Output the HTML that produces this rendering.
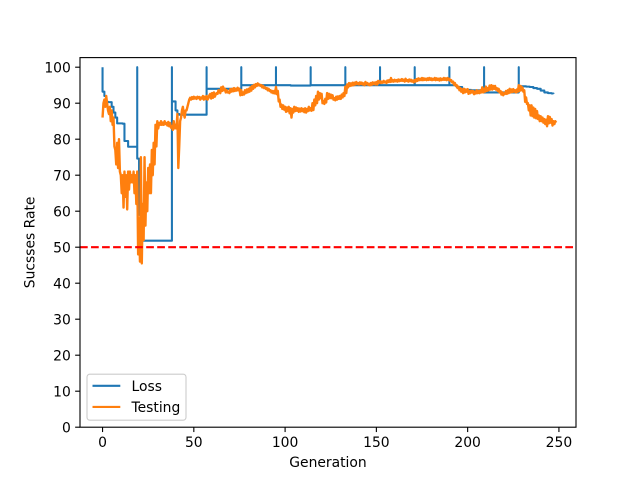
<!DOCTYPE html>
<html lang="en">
<head>
<meta charset="utf-8">
<title>Success Rate Chart</title>
<style>
html,body{margin:0;padding:0;background:#fff;width:640px;height:480px;overflow:hidden}
svg{display:block}
text{font-family:"DejaVu Sans",sans-serif;font-size:13.89px;fill:#000}
</style>
</head>
<body>
<svg id="chart" width="640" height="480" viewBox="0 0 640 480" xmlns="http://www.w3.org/2000/svg">
<defs><clipPath id="plot-clip"><rect x="80" y="57.6" width="496" height="369.6"/></clipPath></defs>
<rect x="0" y="0" width="640" height="480" fill="#fff"/>
<rect x="80" y="57.6" width="496" height="369.6" fill="#fff"/>
<g id="series" clip-path="url(#plot-clip)"></g>
<g id="axes"></g>
<text x="328" y="467" text-anchor="middle">Generation</text>
<text x="0" y="0" text-anchor="middle" transform="translate(34.5,242.4) rotate(-90)">Sucsses Rate</text>
<g>
<rect x="87" y="374.2" width="99" height="46" rx="2.8" fill="#fff" fill-opacity="0.8" stroke="#ccc" stroke-width="1.1"/>
<line x1="92.5" y1="385.8" x2="120.3" y2="385.8" stroke="#1f77b4" stroke-width="2.08"/>
<text x="131.5" y="391">Loss</text>
<line x1="92.5" y1="406.9" x2="120.3" y2="406.9" stroke="#ff7f0e" stroke-width="2.08"/>
<text x="131.5" y="412">Testing</text>
</g>
</svg>
<script>
const xTicks = [0, 50, 100, 150, 200, 250];
const yTicks = [0, 10, 20, 30, 40, 50, 60, 70, 80, 90, 100];
const thresholdValue = [50];
const lossResetGenerations = [0, 19, 38, 57, 76, 95, 114, 133, 152, 171, 190, 209, 228];
const lossResetPeak = [100];
const lossRate = [
93.2,92,90.4,90.3,90.3,89,87.4,86,84.4,84.4,84.4,84.3,79.5,79.5,77.9,77.9,77.9,77.9,77.9,
74.6,59,51.8,51.8,51.8,51.8,51.8,51.8,51.8,51.8,51.8,51.8,51.8,51.8,51.8,51.8,51.8,51.8,51.8,
90.5,90.5,88,87,86.8,86.8,86.8,86.8,86.8,86.8,86.8,86.8,86.8,86.8,86.8,86.8,86.8,86.8,86.8,
94,94,94,94,94,94,94,94,94,94,94,94,94,94,94,94,94,94,94,
95,95,95,95,95,95,95,95,95,95,95,95,95,95,95,95,95,95,95,
95,95,95,95,95,95,95,95,94.9,94.9,94.9,94.9,94.9,94.9,94.9,94.9,94.9,94.9,94.9,
95,95,95,95,95,95,95,95,95,95,95,95,95,95,95,95,95,95,95,
95,95,95,95,95,95,95,95,95,95,95,95,95,95,95,95,95,95,95,
95,95,95,95,95,95,95,95,95,95,95,95,95,95,95,95,95,95,95,
95,95,95,95,95,95,95,95,95,95,95,95,95,95,95,95,95,95,95,
95,95,95,95,94.5,94.5,94.5,93.8,93.8,93.8,93.7,93.7,93.6,93.6,93.6,93.6,93.6,93.6,93.6,
93,93,93,93,93,93,93,93,93,93,93,93,93,93,93,93,93,93,93,
94.7,94.7,94.7,94.7,94.6,94.6,94.5,94.5,94.2,94.2,94,94,93.5,93.5,93,93,92.8,92.8,92.7,92.6
];
const testingRate = [
86,90,91,89,92,90,88,87,89,85,88,84,86,78,77,73,79,72,80,71,
70,65,70,61,71,64,70,60.5,71,66,71,68,70,68,71,65,70,62,71,48,
58,46,75,45.5,62,52,75,56,68,60,72,65,73,65,77,70,79,73,84,78,
85,83,84.5,84,85,84,84.6,84,85,84.2,84.5,83.8,84.8,83.6,84.5,83.2,83.6,82.6,85,83,
84,83,87,72,78,85,86,88,89,87,86,88,88,89,90,91,91.5,91,91.7,91.2,
91.8,91.3,91.6,91.2,91.8,91.4,91.7,91,91.6,91.3,92,91,91.8,91.2,92,91,91.4,92.2,92.6,91.3,
92.8,91.5,93,91.8,92.4,92.8,92.6,93.6,93.4,92.8,94.4,93.4,94.6,93.6,94,93,93.6,93,93.2,92.8,
93.9,93.2,94,93.3,94.2,93.4,94,93.5,94.3,93.6,94,92.2,93.6,92.3,93,92.4,93.6,92.8,93.8,93,
94,93.2,94.4,93.5,94.8,94,95.1,94.4,95.3,94.8,95.5,95,95.2,94.8,95,94.4,94.8,94.2,94.4,94,
94.2,93.6,94,93.4,93.6,93,93.4,92.8,93.4,92.7,94.5,92.5,93.4,90.5,91,89,89.6,88.4,89.4,88.2,
89,87.6,88.8,87.8,89,87.2,88.6,86,88.4,87.4,89,87.8,88.8,87.9,88.6,87.6,88.5,87.7,88.6,87.8,
88.4,87.5,88.6,87.4,88.4,87.8,89,88,88.6,87.9,90,88.1,91,89.4,92,90,93.2,91,92.8,91.4,
92.6,90,90.6,89.8,91.2,90.2,92.8,91.2,92.6,91.4,92.4,91.4,92.2,91,91.4,90.8,91.8,91,91.9,91.2,
92,91.2,92.4,91.6,92.8,92,94.6,92.8,95.2,94.4,95.6,94.8,95.5,94.9,95.7,95,95.7,95.2,95.9,95.3,
95.6,95.2,95.8,95.3,95.7,95.2,95.5,95,95.9,95.3,95.6,95.1,95.4,95,95.6,95.1,95.8,95.3,95.7,95.2,
95.9,95.2,96.2,95.7,96.1,95.6,96,95.7,96.2,95.8,96,95.6,96.3,95.9,96.4,95.9,97,96,96.4,96,
96.5,96.1,96.4,96,96.6,96.1,96.5,96.2,96.7,96.2,96.5,96,96.8,96.2,96.4,96,96.6,96.1,96.5,96,
96.3,95.8,96.4,96,96.7,96.2,96.9,96.4,96.8,96.4,97,96.4,96.9,96.5,96.8,96.4,96.9,96.5,97,96.5,
96.9,96.4,96.8,96.5,97,96.4,96.9,96.5,96.8,96.3,96.9,96.4,96.8,96.5,97,96.5,96.9,96.4,97,96.5,
96.8,96.2,96.4,95.8,96,95.2,95.6,94.8,95,94.2,94.6,93.6,94.2,93.2,93.9,92.8,94,93,93.8,93.2,
93.9,92.6,93.4,92.8,93.5,93,93.4,92.5,93.2,92.7,93.6,92.8,93.4,92.8,93.6,93,94.4,93,94,93.2,
94.6,93.4,94.2,93.6,94.9,93.8,95,93.8,94.8,94,94.8,93.8,94.2,93.4,94,93,93.4,92.4,93,92.2,
92.8,92.6,93.4,92.6,93.6,92.8,94,93,93.8,93.1,93.9,93.2,93.6,93,93.8,93.2,95,93.4,94.8,93.6,
94.4,93.2,93.6,90.4,91.6,89.8,90,88,89.4,86.6,89.4,86.4,88.8,86,88.4,85.8,87.8,85.6,86.6,85,
86.4,85,86,84.6,85.6,84.2,85.4,83.6,86.4,84.4,86.2,84.6,85.6,83.8,85,84.2,85,84.6
];
const xScale = v => 102.55 + v * 1.8255;
const yScale = v => 427.2 - v * 3.6;
const NS = 'http://www.w3.org/2000/svg';
const seriesGroup = document.getElementById('series');
const axesGroup = document.getElementById('axes');

function make(tag, attrs, parent) {
  const el = document.createElementNS(NS, tag);
  for (const k in attrs) el.setAttribute(k, attrs[k]);
  parent.appendChild(el);
  return el;
}
function linePath(values, step) {
  return values.map((v, i) => (i ? 'L' : 'M') + xScale(i * step).toFixed(2) + ' ' + yScale(v).toFixed(2)).join('');
}
function stepPath(values, resets, peak) {
  let d = '';
  values.forEach((v, i) => {
    const x = xScale(i).toFixed(2);
    if (i === 0) {
      d += 'M' + x + ' ' + yScale(peak).toFixed(2);
    } else {
      d += 'L' + x + ' ' + yScale(values[i - 1]).toFixed(2);
      if (resets.includes(i)) d += 'L' + x + ' ' + yScale(peak).toFixed(2);
    }
    d += 'L' + x + ' ' + yScale(v).toFixed(2);
  });
  return d;
}

const lossLine = make('path', {d: stepPath(lossRate, lossResetGenerations, lossResetPeak[0]), fill: 'none', stroke: '#1f77b4', 'stroke-width': 2.08, 'stroke-linejoin': 'round'}, seriesGroup);



const testingLine = make('path', {d: linePath(testingRate, 0.5), fill: 'none', stroke: '#ff7f0e', 'stroke-width': 2.4, 'stroke-linejoin': 'round'}, seriesGroup);



const thresholdLine = make('line', {x1: 80, x2: 576, y1: yScale(thresholdValue[0]), y2: yScale(thresholdValue[0]), stroke: '#f00', 'stroke-width': 2.08, 'stroke-dasharray': '7.7 3.33'}, seriesGroup);



xTicks.forEach(t => {
  const x = xScale(t);
  const mark = make('line', {x1: x, x2: x, y1: 427.2, y2: 432.06, stroke: '#000', 'stroke-width': 1.11}, axesGroup);
  
  
  const label = make('text', {x: x, y: 447, 'text-anchor': 'middle'}, axesGroup);
  label.textContent = t;
  
  
});
yTicks.forEach(t => {
  const y = yScale(t);
  const mark = make('line', {x1: 75.14, x2: 80, y1: y, y2: y, stroke: '#000', 'stroke-width': 1.11}, axesGroup);
  
  
  const label = make('text', {x: 70.8, y: y + 5.2, 'text-anchor': 'end'}, axesGroup);
  label.textContent = t;
  
  
});
const frame = make('rect', {x: 80, y: 57.6, width: 496, height: 369.6, fill: 'none', stroke: '#000', 'stroke-width': 1.11}, axesGroup);


</script>
</body>
</html>
